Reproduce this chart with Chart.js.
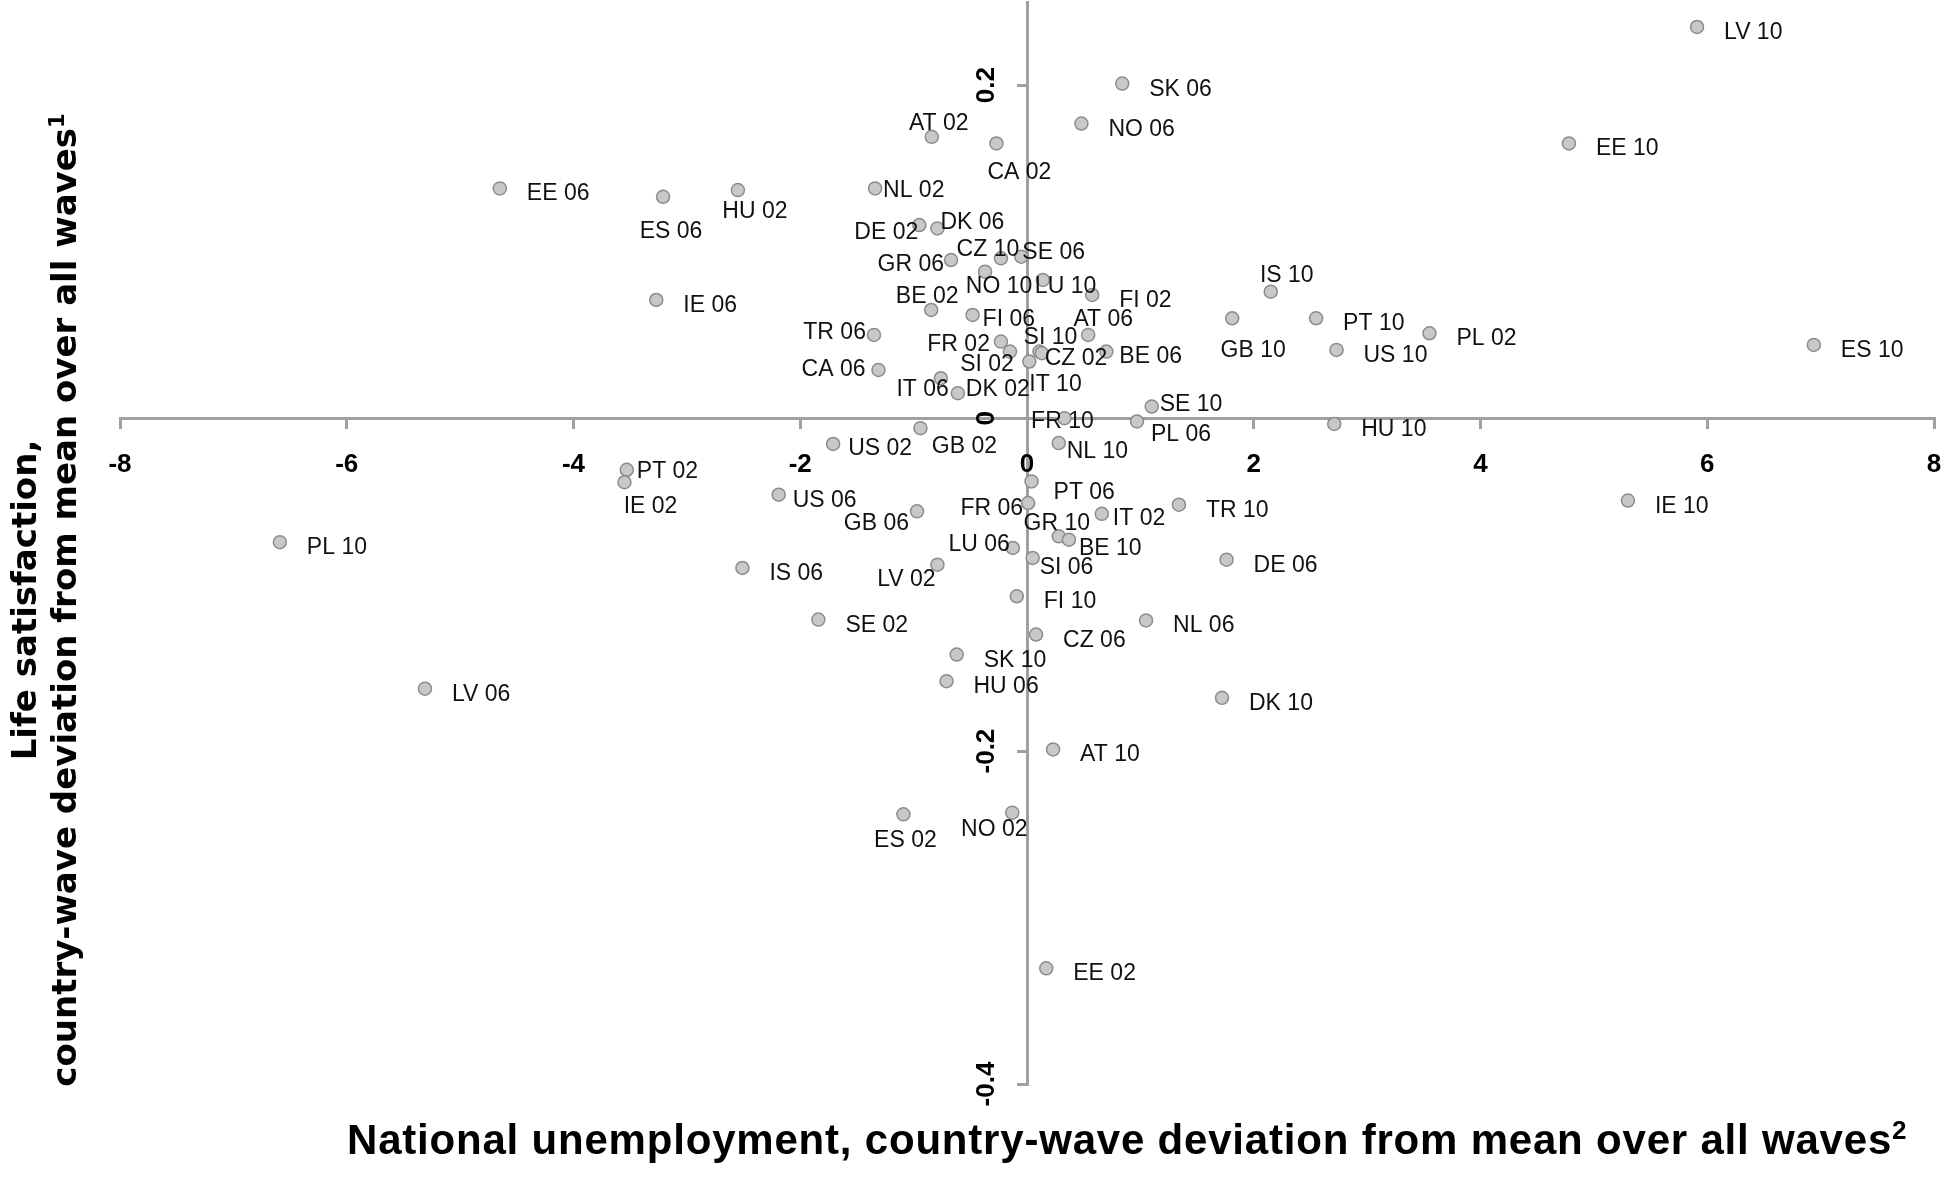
<!DOCTYPE html>
<html>
<head>
<meta charset="utf-8">
<script src="https://cdn.jsdelivr.net/npm/chart.js@4.4.1/dist/chart.umd.min.js"></script>
<style>
  body { margin: 0; background: #fff; overflow: hidden; }
  #wrap { position: relative; width: 1946px; height: 1181px; }
  #xTitle {
    position: absolute; left: 347px; top: 1115px;
    font: bold 42px 'Liberation Sans', Arial, sans-serif;
    letter-spacing: 0.8px; line-height: 50px; white-space: nowrap; color: #000;
  }
  #yTitle {
    position: absolute; left: 44px; top: 600px; width: 1100px;
    transform: translate(-50%, -50%) rotate(-90deg);
    text-align: center; white-space: nowrap; color: #000;
    font: bold 34px 'DejaVu Sans', Verdana, sans-serif; line-height: 40px;
  }
  sup { font-size: 62%; line-height: 0; vertical-align: super; }
</style>
</head>
<body>
<div id="wrap">
  <canvas id="myChart"></canvas>
  <div id="yTitle">Life satisfaction,<br>country-wave deviation from mean over all waves<sup>1</sup></div>
  <div id="xTitle">National unemployment, country-wave deviation from mean over all waves<sup>2</sup></div>
</div>
<script>
'use strict';

// country + survey wave
const countries = [
  'LV 10', 'SK 06', 'NO 06', 'AT 02', 'CA 02', 'EE 10', 'EE 06', 'ES 06', 'HU 02', 'NL 02',
  'DE 02', 'DK 06', 'GR 06', 'CZ 10', 'SE 06', 'NO 10', 'LU 10', 'FI 02', 'IS 10', 'IE 06',
  'BE 02', 'FI 06', 'GB 10', 'PT 10', 'PL 02', 'ES 10', 'US 10', 'TR 06', 'AT 06', 'FR 02',
  'SI 10', 'CZ 02', 'BE 06', 'SI 02', 'IT 10', 'CA 06', 'IT 06', 'DK 02', 'SE 10', 'FR 10',
  'PL 06', 'HU 10', 'GB 02', 'US 02', 'NL 10', 'PT 02', 'IE 02', 'PL 10', 'US 06', 'PT 06',
  'FR 06', 'TR 10', 'GB 06', 'IT 02', 'GR 10', 'BE 10', 'LU 06', 'SI 06', 'DE 06', 'IS 06',
  'LV 02', 'FI 10', 'SE 02', 'NL 06', 'CZ 06', 'SK 10', 'HU 06', 'LV 06', 'DK 10', 'AT 10',
  'ES 02', 'NO 02', 'EE 02', 'IE 10'
];

// national unemployment deviation
const unemployment = [
  5.91, 0.84, 0.48, -0.84, -0.27, 4.78, -4.65, -3.21, -2.55, -1.34,
  -0.95, -0.79, -0.67, -0.23, -0.05, -0.37, 0.14, 0.575, 2.15, -3.27,
  -0.845, -0.48, 1.81, 2.55, 3.55, 6.94, 2.73, -1.35, 0.54, -0.23,
  0.11, 0.13, 0.70, -0.15, 0.02, -1.31, -0.76, -0.61, 1.10, 0.33,
  0.97, 2.71, -0.94, -1.71, 0.28, -3.53, -3.55, -6.59, -2.19, 0.04,
  0.01, 1.34, -0.97, 0.66, 0.28, 0.37, -0.125, 0.05, 1.76, -2.51,
  -0.79, -0.09, -1.84, 1.05, 0.08, -0.62, -0.71, -5.31, 1.72, 0.23,
  -1.09, -0.13, 0.17, 5.30
];

// life satisfaction deviation
const satisfaction = [
  0.235, 0.201, 0.177, 0.169, 0.165, 0.165, 0.138, 0.133, 0.137, 0.138,
  0.116, 0.114, 0.095, 0.096, 0.097, 0.088, 0.083, 0.074, 0.076, 0.071,
  0.065, 0.062, 0.060, 0.060, 0.051, 0.044, 0.041, 0.050, 0.050, 0.046,
  0.040, 0.039, 0.040, 0.040, 0.034, 0.029, 0.024, 0.015, 0.007, 0.000,
  -0.002, -0.0035, -0.006, -0.0155, -0.015, -0.031, -0.0385, -0.0745, -0.046, -0.038,
  -0.051, -0.052, -0.056, -0.0575, -0.071, -0.073, -0.078, -0.084, -0.085, -0.090,
  -0.088, -0.107, -0.121, -0.1215, -0.130, -0.142, -0.158, -0.1625, -0.168, -0.199,
  -0.238, -0.237, -0.3305, -0.0495
];

const xTicks = [-8, -6, -4, -2, 0, 2, 4, 6, 8];
const yTicks = [-0.4, -0.2, 0, 0.2];

// where each label sits next to its point: [dx, dy, align]
const labelPlace = {
  'AT 02': [7, -15, 'c'], 'CA 02': [23, 28, 'c'], 'ES 06': [8, 33, 'c'], 'HU 02': [17, 20, 'c'],
  'NL 02': [8, 1, 'l'], 'DE 02': [-1, 6, 'r'], 'DK 06': [3, -7, 'l'], 'GR 06': [-7, 3, 'r'],
  'CZ 10': [-13, -10, 'c'], 'SE 06': [1, -6, 'l'], 'NO 10': [14, 13, 'c'], 'LU 10': [-8, 5, 'l'],
  'IS 10': [16, -18, 'c'], 'BE 02': [-4, -15, 'c'], 'FI 06': [10, 3, 'l'], 'GB 10': [21, 31, 'c'],
  'TR 06': [-8, -4, 'r'], 'AT 06': [15, -17, 'c'], 'FR 02': [-11, 1, 'r'], 'SI 10': [11, -16, 'c'],
  'CZ 02': [3, 4, 'l'], 'BE 06': [13, 3, 'l'], 'SI 02': [-23, 11, 'c'], 'IT 10': [0, 21, 'l'],
  'CA 06': [-13, -2, 'r'], 'IT 06': [8, 10, 'r'], 'DK 02': [8, -5, 'l'], 'SE 10': [8, -4, 'l'],
  'FR 10': [-2, 2, 'c'], 'PL 06': [14, 12, 'l'], 'GB 02': [44, 17, 'c'], 'US 02': [15, 3, 'l'],
  'NL 10': [8, 7, 'l'], 'PT 02': [10, 0, 'l'], 'IE 02': [26, 23, 'c'], 'US 06': [14, 4, 'l'],
  'PT 06': [22, 10, 'l'], 'FR 06': [-5, 4, 'r'], 'GB 06': [-8, 11, 'r'], 'IT 02': [11, 3, 'l'],
  'GR 10': [-2, -14, 'c'], 'BE 10': [10, 7, 'l'], 'LU 06': [-3, -5, 'r'], 'SI 06': [7, 8, 'l'],
  'LV 02': [-31, 13, 'c'], 'ES 02': [2, 25, 'c'], 'NO 02': [-18, 15, 'c']
};

let points = [];
for (let i = 0; i < countries.length; i++) {
  points.push({ x: unemployment[i], y: satisfaction[i] });
}

const axisGrey = '#a0a0a0';

//labels next to the dots
const pointLabels = {
  id: 'pointLabels',
  afterDatasetsDraw(chart) {
    const ctx = chart.ctx;
    const meta = chart.getDatasetMeta(0);
    ctx.save();
    ctx.font = '23px "Liberation Sans", Arial, sans-serif';
    ctx.fillStyle = '#111';
    ctx.textBaseline = 'alphabetic';
    meta.data.forEach((pt, i) => {
      const name = countries[i];
      const p = labelPlace[name] || [27, 4, 'l'];
      ctx.textAlign = p[2] === 'c' ? 'center' : (p[2] === 'r' ? 'right' : 'left');
      ctx.fillText(name, pt.x + p[0], pt.y + p[1] + 8);
    });
    ctx.restore();
  }
};

//tick numbers, y ones turned sideways
const tickNumbers = {
  id: 'tickNumbers',
  afterDraw(chart) {
    const ctx = chart.ctx;
    const xs = chart.scales.x;
    const ys = chart.scales.y;
    const x0 = xs.getPixelForValue(0);
    const y0 = ys.getPixelForValue(0);
    ctx.save();
    ctx.font = 'bold 26px "Liberation Sans", Arial, sans-serif';
    ctx.fillStyle = '#000';
    ctx.textAlign = 'center';
    ctx.textBaseline = 'middle';
    xTicks.forEach(v => {
      ctx.fillText(String(v), xs.getPixelForValue(v), y0 + 47);
    });
    yTicks.forEach(v => {
      ctx.save();
      ctx.translate(x0 - 40, ys.getPixelForValue(v));
      ctx.rotate(-Math.PI / 2);
      ctx.fillText(String(v), 0, 0);
      ctx.restore();
    });
    ctx.restore();
  }
};

const config = {
  type: 'scatter',
  data: {
    labels: countries,
    datasets: [{
      data: points,
      backgroundColor: '#c8c8c8',
      borderColor: '#8c8c8c',
      borderWidth: 1.5,
      pointRadius: 6.5,
      pointHoverRadius: 6.5
    }]
  },
  options: {
    responsive: true,
    maintainAspectRatio: false,
    animation: false,
    layout: {
      autoPadding: false,
      padding: { left: 120, right: 12, top: 2, bottom: 97 }
    },
    plugins: {
      legend: { display: false },
      tooltip: { enabled: false }
    },
    scales: {
      x: {
        type: 'linear',
        position: { y: 0 },
        min: -8,
        max: 8,
        afterBuildTicks: scale => { scale.ticks = xTicks.map(v => ({ value: v })); },
        ticks: { display: false },
        grid: { drawOnChartArea: false, drawTicks: true, tickLength: 9, color: axisGrey, lineWidth: 3 },
        border: { display: true, color: axisGrey, width: 3 }
      },
      y: {
        type: 'linear',
        position: { x: 0 },
        min: -0.4,
        max: 0.25,
        afterBuildTicks: scale => { scale.ticks = yTicks.map(v => ({ value: v })); },
        ticks: { display: false },
        grid: { drawOnChartArea: false, drawTicks: true, tickLength: 9, color: axisGrey, lineWidth: 3 },
        border: { display: true, color: axisGrey, width: 3 }
      }
    }
  },
  plugins: [pointLabels, tickNumbers]
};

let myChart = new Chart(document.getElementById('myChart'), config);
</script>
</body>
</html>
